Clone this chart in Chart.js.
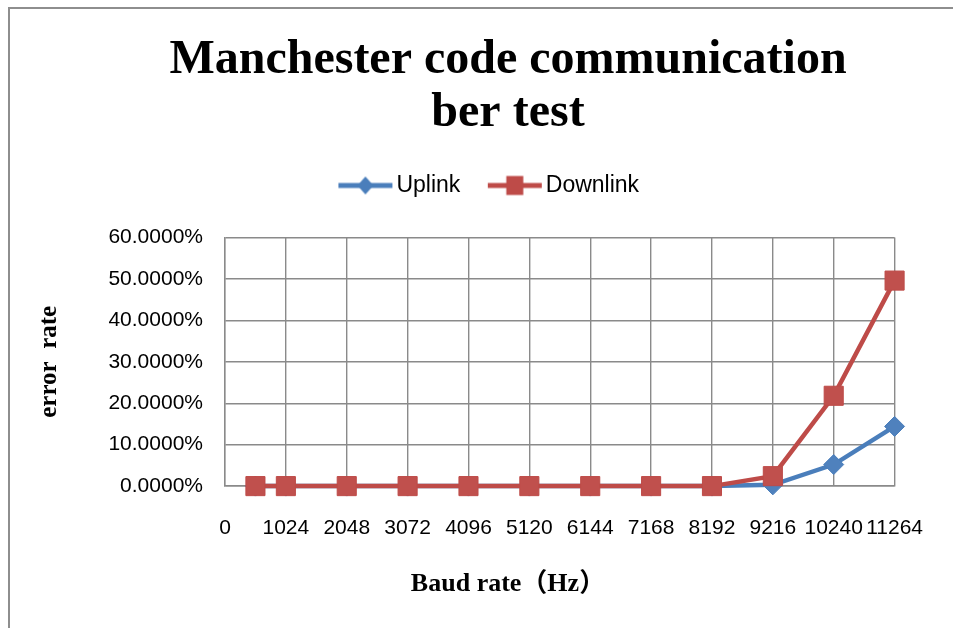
<!DOCTYPE html>
<html>
<head>
<meta charset="utf-8">
<script src="https://cdn.jsdelivr.net/npm/chart.js@4.4.0/dist/chart.umd.min.js"></script>
<style>
  html, body { margin: 0; padding: 0; background: #fff; overflow: hidden; }
  #frame { position: absolute; left: 8px; top: 7px; width: 943px; height: 619px;
           border-left: 2px solid #8e8e8e; border-top: 2px solid #8e8e8e; }
  #wrap { position: relative; width: 943px; height: 619px; }
</style>
</head>
<body>
<div id="frame"><div id="wrap"><canvas id="berChart"></canvas></div></div>
<script>
const baudRates = [512, 1024, 2048, 3072, 4096, 5120, 6144, 7168, 8192, 9216, 10240, 11264];
const uplinkRate = [0, 0, 0, 0, 0, 0, 0, 0, 0, 0.3, 5.2, 14.4];
const downlinkRate = [0, 0, 0, 0, 0, 0, 0, 0, 0, 2.4, 21.8, 49.6];
const xTicks = [0, 1024, 2048, 3072, 4096, 5120, 6144, 7168, 8192, 9216, 10240, 11264];
const yTicks = [0, 10, 20, 30, 40, 50, 60];

const BLUE = '#4a7ebb';
const RED = '#be4b48';
const GRID = '#8a8a8a';
const SANS = '"Liberation Sans", Arial, sans-serif';
const SERIF = '"Liberation Serif", "Times New Roman", "Noto Sans CJK SC", serif';

// legend symbol: short line with the marker in the middle
function legendIcon(color, shape) {
  const c = document.createElement('canvas');
  c.width = 87; c.height = 24;
  const g = c.getContext('2d');
  g.strokeStyle = color; g.lineWidth = 5;
  g.beginPath(); g.moveTo(1, 12); g.lineTo(55, 12); g.stroke();
  g.fillStyle = color;
  g.beginPath();
  if (shape === 'diamond') {
    g.moveTo(28, 3); g.lineTo(36, 12); g.lineTo(28, 21); g.lineTo(20, 12); g.closePath();
  } else {
    g.rect(19.5, 2.5, 17, 19);
  }
  g.fill();
  return c;
}
const legendIcons = [legendIcon(BLUE, 'diamond'), legendIcon(RED, 'square')];

const toPoints = vals => vals.map((v, i) => ({ x: baudRates[i], y: v }));

// extra room under the legend
const legendGap = {
  id: 'legendGap',
  beforeInit(chart) {
    const fit = chart.legend.fit;
    chart.legend.fit = function () { fit.call(this); this.height += 30.5; };
  }
};

new Chart(document.getElementById('berChart'), {
  type: 'line',
  data: {
    datasets: [{
      label: 'Uplink',
      data: toPoints(uplinkRate),
      borderColor: BLUE,
      backgroundColor: '#4f81bd',
      borderWidth: 4.5,
      pointStyle: 'rectRot',
      pointRadius: 10,
      pointBorderWidth: 1,
      order: 1,
      clip: false
    }, {
      label: 'Downlink',
      data: toPoints(downlinkRate),
      borderColor: RED,
      backgroundColor: '#c0504d',
      borderWidth: 4.5,
      pointStyle: 'rect',
      pointRadius: 13.5,
      pointBorderWidth: 1,
      order: 0,
      clip: false
    }]
  },
  options: {
    responsive: true,
    maintainAspectRatio: false,
    animation: false,
    layout: { padding: { left: 70, right: 17, top: 0, bottom: 0 } },
    scales: {
      x: {
        type: 'linear',
        min: 0,
        max: 11264,
        afterBuildTicks: s => { s.ticks = xTicks.map(v => ({ value: v })); },
        afterFit: s => { s.height = 82.3; },
        ticks: {
          autoSkip: false, maxRotation: 0, padding: 30,
          color: '#000', font: { family: SANS, size: 21 },
          callback: v => String(v)
        },
        grid: { color: GRID, lineWidth: 1.4, drawTicks: false },
        border: { color: GRID, width: 1.4 }
      },
      y: {
        min: 0,
        max: 60,
        afterBuildTicks: s => { s.ticks = yTicks.map(v => ({ value: v })); },
        afterFit: s => { s.width = 145; },
        ticks: {
          padding: 22,
          color: '#000', font: { family: SANS, size: 21 },
          callback: v => v.toFixed(4) + '%'
        },
        grid: { color: GRID, lineWidth: 1.4, drawTicks: false },
        border: { color: GRID, width: 1.4 },
        title: {
          display: true,
          text: 'error  rate',
          color: '#000',
          font: { family: SERIF, size: 25, weight: 'bold' },
          padding: { top: -45.5, bottom: 0 }
        }
      },
      // empty right-hand margin so the titles sit where they do in the original
      yRight: {
        position: 'right',
        min: 0,
        max: 60,
        afterFit: s => { s.width = 39; },
        ticks: { display: false },
        grid: { display: false },
        border: { display: false }
      }
    },
    plugins: {
      title: {
        display: true,
        text: ['Manchester code communication', 'ber test'],
        color: '#000',
        font: { family: SERIF, size: 48, weight: 'bold', lineHeight: 1.1 },
        padding: { top: 25.6, bottom: -32.2 }
      },
      subtitle: {
        display: true,
        position: 'bottom',
        text: 'Baud rate（Hz）',
        color: '#000',
        font: { family: SERIF, size: 26, weight: 'bold', lineHeight: 1.2 },
        padding: { top: 0, bottom: 28.4 }
      },
      legend: {
        position: 'top',
        labels: {
          usePointStyle: true,
          pointStyleWidth: 8,
          padding: 66,
          color: '#000',
          font: { family: SANS, size: 23 },
          sort: (a, b) => a.datasetIndex - b.datasetIndex,
          generateLabels: chart => Chart.defaults.plugins.legend.labels.generateLabels(chart)
            .map(l => Object.assign(l, { pointStyle: legendIcons[l.datasetIndex] }))
        }
      },
      tooltip: { enabled: false }
    }
  },
  plugins: [legendGap]
});
</script>
</body>
</html>
